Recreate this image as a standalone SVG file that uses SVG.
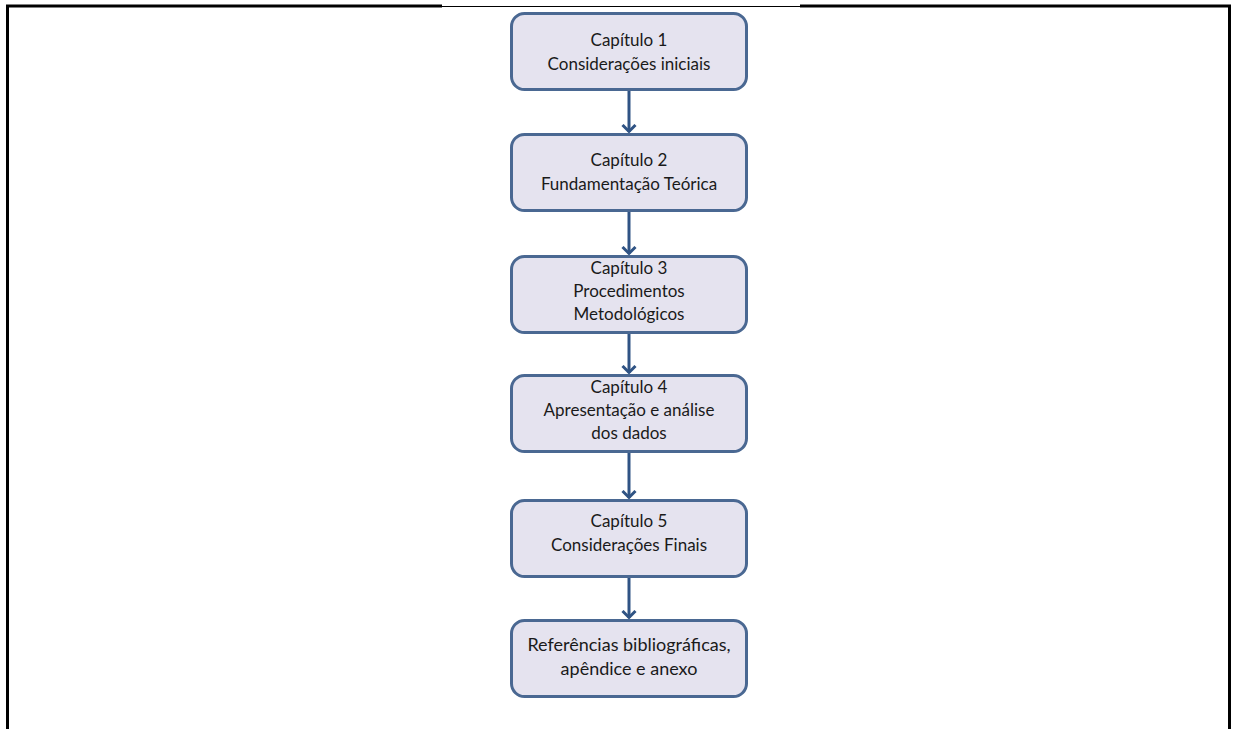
<svg xmlns="http://www.w3.org/2000/svg" width="1235" height="729" viewBox="0 0 1235 729">
  <style>
    .frame { stroke: #000; fill: none; }
    .box { fill: #E5E3EF; stroke: #4A6892; stroke-width: 3; }
    .lbl { font-family: "Lato", "Liberation Sans", sans-serif; font-size: 17px; fill: #1a1a1a; text-anchor: middle; }
    .big { font-size: 18px; }
    .conn { stroke: #2F5384; stroke-width: 3; fill: none; }
  </style>
  <defs>
    <!-- open chevron head, drawn along +x so orient="auto" turns it with the line -->
    <marker id="chev" viewBox="0 0 10 16" refX="8.5" refY="8" markerWidth="10" markerHeight="16" markerUnits="userSpaceOnUse" orient="auto">
      <path d="M1.5,1.5 L8,8 L1.5,14.5" fill="none" stroke="#2F5384" stroke-width="3" stroke-linejoin="miter"/>
    </marker>
  </defs>

  <rect width="1235" height="729" fill="#fff"/>

  <!-- page frame -->
  <g id="frame">
    <line class="frame" x1="6" y1="6" x2="442" y2="6" stroke-width="3"/>
    <line class="frame" x1="442" y1="6.5" x2="800" y2="6.5" stroke-width="1"/>
    <line class="frame" x1="800" y1="6" x2="1231" y2="6" stroke-width="3"/>
    <line class="frame" x1="7.5" y1="5" x2="7.5" y2="729" stroke-width="3"/>
    <line class="frame" x1="1229.5" y1="5" x2="1229.5" y2="729" stroke-width="3"/>
  </g>

  <!-- connectors -->
  <g id="connectors">
    <line class="conn" x1="629" y1="91" x2="629" y2="132" marker-end="url(#chev)"/>
    <line class="conn" x1="629" y1="212" x2="629" y2="254" marker-end="url(#chev)"/>
    <line class="conn" x1="629" y1="334" x2="629" y2="373" marker-end="url(#chev)"/>
    <line class="conn" x1="629" y1="453" x2="629" y2="498" marker-end="url(#chev)"/>
    <line class="conn" x1="629" y1="578" x2="629" y2="618" marker-end="url(#chev)"/>
  </g>

  <g id="cap1">
    <rect class="box" x="511.5" y="13.5" width="235" height="76" rx="13"/>
    <text class="lbl" x="629" y="46">Capítulo 1</text>
    <text class="lbl" x="629" y="69.5">Considerações iniciais</text>
  </g>

  <g id="cap2">
    <rect class="box" x="511.5" y="134.5" width="235" height="76" rx="13"/>
    <text class="lbl" x="629" y="166">Capítulo 2</text>
    <text class="lbl" x="629" y="189.5">Fundamentação Teórica</text>
  </g>

  <g id="cap3">
    <rect class="box" x="511.5" y="256.5" width="235" height="76" rx="13"/>
    <text class="lbl" x="629" y="274">Capítulo 3</text>
    <text class="lbl" x="629" y="297">Procedimentos</text>
    <text class="lbl" x="629" y="320">Metodológicos</text>
  </g>

  <g id="cap4">
    <rect class="box" x="511.5" y="375.5" width="235" height="76" rx="13"/>
    <text class="lbl" x="629" y="393">Capítulo 4</text>
    <text class="lbl" x="629" y="416">Apresentação e análise</text>
    <text class="lbl" x="629" y="439">dos dados</text>
  </g>

  <g id="cap5">
    <rect class="box" x="511.5" y="500.5" width="235" height="76" rx="13"/>
    <text class="lbl" x="629" y="527">Capítulo 5</text>
    <text class="lbl" x="629" y="550.5">Considerações Finais</text>
  </g>

  <g id="refs">
    <rect class="box" x="511.5" y="620.5" width="235" height="76" rx="13"/>
    <text class="lbl big" x="629" y="651">Referências bibliográficas,</text>
    <text class="lbl big" x="629" y="675">apêndice e anexo</text>
  </g>
</svg>
